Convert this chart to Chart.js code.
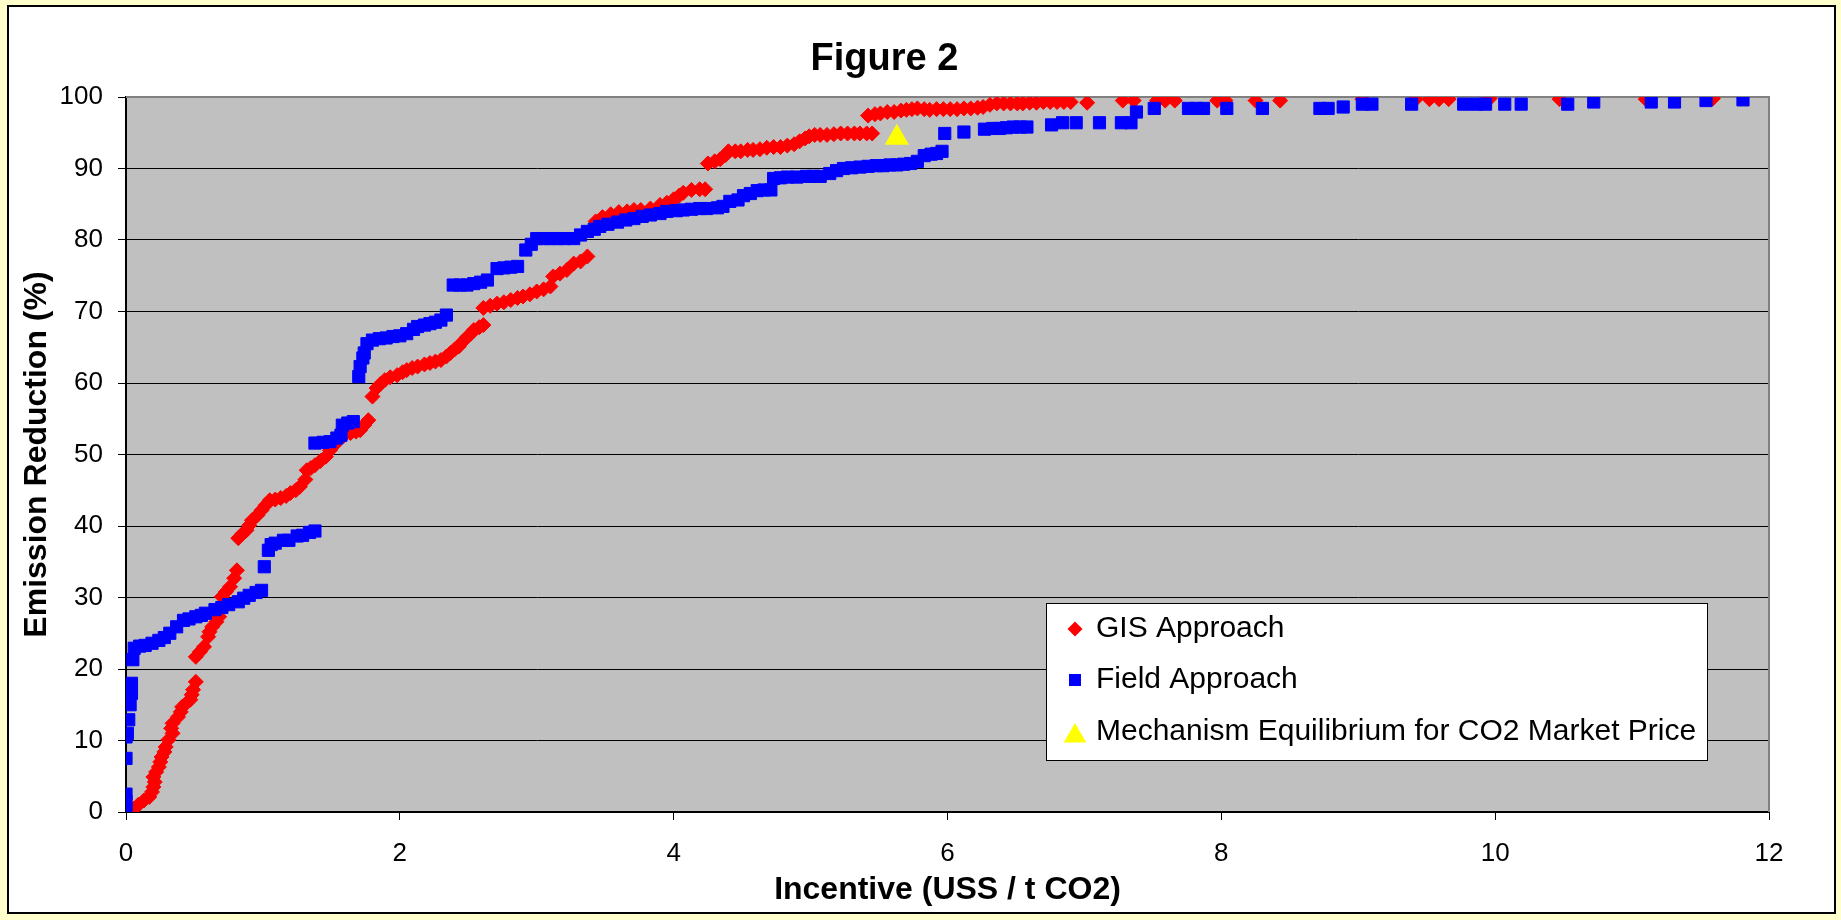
<!DOCTYPE html>
<html>
<head>
<meta charset="utf-8">
<title>Figure 2</title>
<script src="https://cdn.jsdelivr.net/npm/chart.js@4.4.1/dist/chart.umd.min.js"></script>
<style>
  html, body { margin: 0; padding: 0; background: #FFFFCC; }
  body { width: 1841px; height: 920px; position: relative; overflow: hidden; }
  #frame {
    position: absolute; left: 7px; top: 5px; width: 1829px; height: 909px;
    box-sizing: border-box; background: #fff; border: 2px solid #000;
  }
  #myChart { position: absolute; left: 0; top: 0; }
</style>
</head>
<body>
<div id="frame"></div>
<canvas id="myChart" width="1841" height="920"></canvas>
<script>
// values: [incentive, emission reduction %]
const gisPoints = [
  [0.03,0.0],[0.06,0.5],[0.09,1.0],[0.13,1.6],[0.17,2.1],[0.19,2.8],[0.20,3.5],[0.21,4.2],[0.20,4.9],[0.22,5.6],
  [0.24,6.3],[0.25,7.0],[0.26,7.7],[0.28,8.4],[0.29,9.1],[0.31,10.1],[0.34,11.0],[0.33,11.7],[0.34,12.4],[0.38,13.3],
  [0.40,14.0],[0.41,14.7],[0.44,15.2],[0.47,15.7],[0.48,16.4],[0.49,17.1],[0.51,18.2],
  [0.51,21.7],[0.54,22.4],[0.57,23.1],[0.60,24.5],[0.61,25.2],[0.63,25.9],[0.66,26.6],[0.68,27.3],[0.71,28.7],
  [0.70,30.1],[0.73,30.8],[0.76,31.5],[0.79,32.7],[0.81,33.8],
  [0.82,38.3],[0.85,38.9],[0.88,39.4],[0.90,40.1],[0.92,40.8],[0.96,41.5],[0.99,42.2],[1.02,42.9],[1.05,43.6],
  [1.09,43.7],[1.13,43.9],[1.17,44.2],[1.20,44.6],[1.24,45.0],[1.27,45.5],[1.31,46.5],[1.32,47.8],[1.35,48.1],
  [1.38,48.5],[1.42,49.1],[1.46,49.7],[1.49,50.6],[1.52,51.3],[1.54,52.0],[1.59,52.6],[1.64,53.0],[1.68,53.2],
  [1.71,53.4],[1.74,54.1],[1.77,54.8],
  [1.80,58.1],[1.83,59.3],[1.86,59.9],[1.89,60.4],[1.93,60.8],[1.98,61.1],[2.02,61.5],[2.05,61.8],[2.09,62.1],
  [2.13,62.3],[2.18,62.6],[2.22,62.8],[2.26,63.0],[2.30,63.2],[2.34,63.7],[2.37,64.2],[2.40,64.7],[2.43,65.1],
  [2.46,65.8],[2.49,66.4],[2.52,66.9],[2.54,67.4],[2.58,67.8],[2.61,68.1],
  [2.61,70.5],[2.66,70.8],[2.71,71.1],[2.76,71.3],[2.81,71.6],[2.86,71.9],[2.90,72.1],[2.95,72.4],[3.00,72.8],
  [3.05,73.1],[3.10,73.5],[3.12,74.9],[3.17,75.3],[3.22,75.8],[3.27,76.7],[3.32,77.0],[3.37,77.7],
  [3.43,82.6],[3.48,83.2],[3.54,83.6],[3.60,83.9],[3.66,84.0],[3.71,84.2],[3.76,84.2],[3.83,84.4],[3.90,84.9],
  [3.95,85.2],[4.00,85.7],[4.04,86.2],[4.07,86.6],[4.13,87.0],[4.19,87.1],[4.23,87.1],
  [4.25,90.7],[4.30,91.0],[4.34,91.3],[4.38,91.9],[4.40,92.4],[4.45,92.4],[4.49,92.4],[4.54,92.6],[4.58,92.6],
  [4.63,92.7],[4.68,92.9],[4.73,93.0],[4.78,93.0],[4.83,93.2],[4.88,93.4],[4.92,93.8],[4.96,94.2],[4.99,94.5],
  [5.03,94.7],[5.07,94.7],[5.12,94.7],[5.17,94.8],[5.22,94.9],[5.27,94.9],[5.32,94.9],[5.36,94.9],[5.41,94.9],
  [5.45,94.9],
  [5.42,97.4],[5.47,97.6],[5.51,97.7],[5.56,97.9],[5.61,97.9],[5.66,98.1],[5.70,98.2],[5.74,98.3],[5.78,98.4],
  [5.83,98.3],[5.87,98.2],[5.92,98.3],[5.97,98.3],[6.02,98.3],[6.07,98.3],[6.12,98.4],[6.17,98.4],[6.22,98.5],
  [6.26,98.6],[6.31,98.9],[6.36,99.1],[6.41,99.1],[6.46,99.1],[6.51,99.1],[6.55,99.1],[6.60,99.2],[6.65,99.2],
  [6.70,99.3],[6.75,99.3],[6.80,99.3],[6.85,99.3],[6.90,99.3],[7.02,99.2],[7.28,99.5],[7.36,99.5],[7.53,99.5],
  [7.59,99.5],[7.66,99.5],[7.97,99.5],[8.03,99.5],[8.25,99.5],[8.43,99.5],[9.03,99.7],[9.42,99.7],[9.52,99.7],
  [9.59,99.7],[9.66,99.7],[9.96,99.8],[10.47,99.7],[11.10,99.7],[11.59,99.8]
]

const fieldPoints = [
  [0.00,0.5],[0.00,1.5],[0.00,2.5],[0.00,7.5],[0.00,10.5],[0.01,11.0],[0.02,12.9],[0.03,15.0],[0.04,16.6],
  [0.04,18.0],[0.05,21.3],[0.06,22.9],[0.10,23.2],[0.14,23.3],[0.19,23.6],[0.24,24.0],[0.28,24.4],[0.32,25.0],
  [0.37,25.9],[0.42,26.8],[0.46,27.0],[0.51,27.3],[0.55,27.5],[0.58,27.8],[0.65,28.3],[0.70,28.6],[0.75,29.0],
  [0.82,29.4],[0.86,29.9],[0.90,30.3],[0.95,30.7],[0.99,31.0],
  [1.01,34.3],[1.04,36.6],[1.06,37.4],[1.09,37.6],[1.15,38.0],[1.19,38.0],[1.25,38.6],[1.29,38.7],[1.34,39.1],
  [1.38,39.3],
  [1.38,51.6],[1.44,51.7],[1.49,51.8],[1.54,52.3],[1.57,52.7],[1.58,54.1],[1.62,54.4],[1.66,54.6],
  [1.70,60.9],[1.71,62.3],[1.73,63.5],[1.74,64.2],[1.76,65.5],[1.80,66.0],[1.85,66.2],[1.90,66.3],[1.95,66.5],
  [2.00,66.6],[2.05,66.9],[2.10,67.5],[2.13,67.9],[2.18,68.1],[2.22,68.3],[2.26,68.5],[2.30,68.8],[2.34,69.5],
  [2.39,73.7],[2.44,73.7],[2.49,73.7],[2.54,73.9],[2.59,74.1],[2.64,74.4],[2.71,76.0],[2.76,76.1],[2.81,76.2],
  [2.86,76.3],[2.92,78.6],[2.96,79.4],[3.00,80.2],[3.05,80.2],[3.10,80.2],[3.15,80.2],[3.20,80.2],[3.27,80.2],
  [3.32,80.7],[3.37,81.2],[3.42,81.5],[3.46,81.9],[3.52,82.2],[3.59,82.5],[3.65,82.8],[3.71,83.0],[3.77,83.3],
  [3.83,83.5],[3.90,83.7],[3.95,84.0],[4.02,84.1],[4.07,84.2],[4.13,84.3],[4.19,84.4],[4.24,84.4],[4.32,84.5],
  [4.36,84.7],[4.41,85.4],[4.47,85.6],[4.51,86.2],[4.56,86.5],[4.61,86.9],[4.66,87.0],[4.71,87.0],
  [4.73,88.6],[4.78,88.7],[4.83,88.8],[4.90,88.8],[4.97,88.9],[5.02,88.9],[5.07,88.9],[5.14,89.3],[5.19,89.7],
  [5.24,90.0],[5.30,90.1],[5.36,90.2],[5.42,90.3],[5.48,90.4],[5.53,90.4],[5.58,90.5],[5.63,90.5],[5.68,90.6],
  [5.73,90.7],[5.78,91.0],[5.83,91.8],[5.88,92.0],[5.92,92.1],[5.96,92.4],
  [5.98,94.9],[6.12,95.1],[6.27,95.5],[6.33,95.6],[6.38,95.6],[6.43,95.7],[6.48,95.8],[6.53,95.8],[6.58,95.8],
  [6.76,96.1],[6.84,96.4],[6.94,96.4],[7.11,96.4],[7.27,96.4],[7.34,96.4],[7.38,97.9],[7.51,98.4],[7.76,98.4],
  [7.82,98.4],[7.87,98.4],[8.04,98.4],[8.30,98.4],[8.72,98.4],[8.78,98.4],[8.89,98.6],[9.03,99.0],[9.10,99.0],
  [9.39,99.0],[9.77,99.0],[9.86,99.0],[9.93,99.0],[10.07,99.0],[10.19,99.0],[10.53,99.0],[10.72,99.3],
  [11.14,99.3],[11.31,99.3],[11.54,99.5],[11.81,99.6]
]

const marketPoints = [[5.63, 94.3]]

const seriesNames = ['GIS Approach', 'Field Approach', 'Mechanism Equilibrium for CO2 Market Price']
const xTicks = [0, 2, 4, 6, 8, 10, 12]
const yTicks = [0, 10, 20, 30, 40, 50, 60, 70, 80, 90, 100]

const ctx = document.getElementById('myChart')
Chart.defaults.font.family = 'Arial, "Liberation Sans", sans-serif'
Chart.defaults.color = '#000'

function toXY(list){
  return list.map(p => ({x: p[0], y: p[1]}))
}

// marker shapes, same geometry Chart.js uses for rectRot / rect / triangle
function marker(c, style, r, x, y){
  c.beginPath()
  if (style == 'rectRot'){
    c.moveTo(x - r, y); c.lineTo(x, y - r); c.lineTo(x + r, y); c.lineTo(x, y + r)
  } else if (style == 'rect'){
    const s = Math.SQRT1_2 * r
    c.rect(x - s, y - s, 2 * s, 2 * s)
  } else {
    c.moveTo(x, y - r)
    c.lineTo(x + Math.sin(Math.PI * 2 / 3) * r, y + r / 2)
    c.lineTo(x - Math.sin(Math.PI * 2 / 3) * r, y + r / 2)
  }
  c.closePath()
  c.fill()
}

const plotBack = {
  id: 'plotBack',
  beforeDraw(chart){
    const a = chart.chartArea
    const c = chart.ctx
    c.save()
    c.fillStyle = '#C0C0C0'
    c.fillRect(a.left, a.top, a.right - a.left, a.bottom - a.top)
    c.restore()
  },
  beforeDatasetsDraw(chart){
    const a = chart.chartArea
    const c = chart.ctx
    c.save()
    c.strokeStyle = '#808080'
    c.lineWidth = 2
    c.beginPath()
    c.moveTo(a.left, a.top)
    c.lineTo(a.right, a.top)
    c.lineTo(a.right, a.bottom)
    c.stroke()
    c.restore()
  }
}

// Excel style legend box sitting inside the plot, lower right
const boxLegend = {
  id: 'boxLegend',
  afterDraw(chart){
    const a = chart.chartArea
    const c = chart.ctx
    const left = a.left + 920, top = a.top + 506, w = 661, h = 157
    c.save()
    c.fillStyle = '#fff'
    c.fillRect(left, top, w, h)
    c.strokeStyle = '#000'
    c.lineWidth = 1
    c.strokeRect(left + 0.5, top + 0.5, w, h)
    c.font = '30px Arial, "Liberation Sans", sans-serif'
    c.textBaseline = 'middle'
    const rows = [26, 77, 129]
    const sizes = [7.5, 8.5, 13]
    chart.data.datasets.forEach((ds, i) => {
      c.fillStyle = ds.pointBackgroundColor
      marker(c, ds.pointStyle, sizes[i], left + 29, top + rows[i] + (i == 2 ? 4 : 0))
      c.fillStyle = '#000'
      c.fillText(ds.label, left + 50, top + rows[i])
    })
    c.restore()
  }
}

new Chart(ctx, {
  type: 'scatter',
  data: {
    datasets: [{
      label: seriesNames[0],
      data: toXY(gisPoints),
      pointStyle: 'rectRot',
      pointRadius: 7.5,
      pointBorderWidth: 1,
      pointBackgroundColor: '#FF0000',
      pointBorderColor: '#FF0000',
      order: 2
    }, {
      label: seriesNames[1],
      data: toXY(fieldPoints),
      pointStyle: 'rect',
      pointRadius: 8.6,
      pointBorderWidth: 1,
      pointBackgroundColor: '#0000FF',
      pointBorderColor: '#0000FF',
      order: 1
    }, {
      label: seriesNames[2],
      data: toXY(marketPoints),
      pointStyle: 'triangle',
      pointRadius: 14,
      pointBorderWidth: 0,
      pointBackgroundColor: '#FFFF00',
      pointBorderColor: '#FFFF00',
      order: 0
    }]
  },
  options: {
    responsive: false,
    animation: false,
    events: [],
    layout: { padding: { left: 0, right: 72, top: 0, bottom: 0 } },
    plugins: {
      legend: { display: false },
      tooltip: { enabled: false },
      title: {
        display: true,
        text: 'Figure 2',
        color: '#000',
        font: { size: 38, weight: 'bold' },
        padding: { top: 37, bottom: 14.4 }
      }
    },
    scales: {
      x: {
        type: 'linear',
        min: 0,
        max: 12,
        afterBuildTicks: (s) => { s.ticks = xTicks.map(v => ({value: v})) },
        afterFit: (s) => { s.height = 108 },
        border: { display: true, color: '#000', width: 2 },
        grid: { drawOnChartArea: false, drawTicks: true, tickLength: 8, color: '#000', lineWidth: 1 },
        ticks: { font: { size: 26 }, color: '#000', padding: 18, maxRotation: 0 },
        title: {
          display: true,
          text: 'Incentive (USS / t CO2)',
          color: '#000',
          font: { size: 32, weight: 'bold' },
          padding: { top: 0, bottom: 11 }
        }
      },
      y: {
        type: 'linear',
        min: 0,
        max: 100,
        afterBuildTicks: (s) => { s.ticks = yTicks.map(v => ({value: v})) },
        afterFit: (s) => { s.width = 126 },
        border: { display: true, color: '#000', width: 2 },
        grid: {
          color: (c) => c.tick && c.tick.value == 100 ? '#808080' : '#000',
          tickColor: '#000',
          lineWidth: 1,
          tickLength: 8
        },
        ticks: { font: { size: 26 }, color: '#000', padding: 15 },
        title: {
          display: true,
          text: 'Emission Reduction (%)',
          color: '#000',
          font: { size: 32, weight: 'bold' },
          padding: { top: 18, bottom: 0 }
        }
      }
    }
  },
  plugins: [plotBack, boxLegend]
})
</script>
</body>
</html>
